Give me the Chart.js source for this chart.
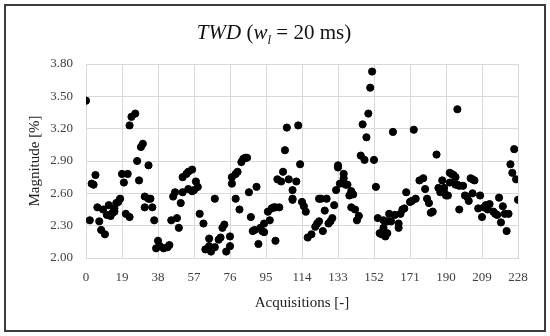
<!DOCTYPE html>
<html>
<head>
<meta charset="utf-8">
<script src="https://cdn.jsdelivr.net/npm/chart.js@4"></script>
<style>
  body { margin: 0; background: #fff; }
  #wrap { position: relative; width: 550px; height: 336px; }
  #frame { position: absolute; left: 4px; top: 4px; width: 538px; height: 324px; border: 2px solid #3c3c3c; pointer-events: none; }
  #title { position: absolute; left: 0; width: 548px; top: 20px; text-align: center; font-family: "Liberation Serif", serif; font-size: 21px; color: #111; }
  #title sub { font-size: 13px; }
  canvas { position: absolute; left: 0; top: 0; }
</style>
</head>
<body>
<div id="wrap">
  <canvas id="chart" width="550" height="336"></canvas>
  <div id="title"><i>TWD</i> (<i>w<sub>l</sub></i> = 20 ms)</div>
  <div id="frame"></div>
</div>
<script>
// acquisitions (x) and magnitude in % (y)
const acquisitions = [
    0, 2, 3, 4, 5, 6, 7, 8, 9, 10, 11, 12, 13, 14, 15, 15, 16, 17, 18, 19,
    20, 21, 22, 23, 23, 24, 26, 27, 28, 29, 30, 31, 31, 33, 33, 34, 35, 36, 37, 38,
    39, 41, 43, 44, 45, 46, 47, 48, 49, 50, 51, 51, 53, 54, 56, 54, 56, 57, 58, 59,
    60, 62, 63, 65, 65, 66, 68, 68, 70, 71, 72, 73, 74, 76,
    76, 77, 77, 79, 79, 80, 81, 82, 83, 84, 85, 86, 87, 88, 89, 90, 91, 92, 93, 94,
    94, 96, 97, 98, 99, 100, 100, 101, 102, 103, 104, 105, 106, 107, 109, 109, 109, 111, 112, 113,
    114, 115, 116, 117,
    119, 121, 122, 123, 123, 124, 125, 126, 127, 128, 129, 130, 131, 132, 133, 133, 134, 136, 136, 137,
    138, 139, 140, 141, 140, 142, 143, 144, 145, 146, 147, 148, 149, 150, 151, 152, 153, 154, 155, 156,
    157, 157, 158, 159, 159, 160, 161, 162, 163, 165, 165, 166, 167, 168, 169, 171, 172, 173, 174, 176,
    178, 179, 180, 181, 182, 183, 185, 186, 187, 188, 189, 189, 190, 191, 192, 193, 194, 195, 196, 197,
    192, 195, 196, 197, 199, 200, 201, 202, 203, 204, 204, 205, 207, 208, 209, 210, 211, 212, 213, 215,
    216, 217, 218, 219, 220, 221, 222, 223, 224, 225, 226, 227, 228
];
const magnitudes = [
    3.46, 2.35, 2.69, 2.68, 2.77, 2.47, 2.34, 2.26, 2.45, 2.22, 2.40, 2.49, 2.39, 2.42, 2.43, 2.46, 2.51, 2.52, 2.55, 2.78,
    2.70, 2.41, 2.78, 2.38, 3.23, 3.31, 3.34, 2.90, 2.72, 3.03, 3.06, 2.47, 2.57, 2.86, 2.55, 2.55, 2.47, 2.35, 2.09, 2.16,
    2.11, 2.09, 2.10, 2.12, 2.35, 2.57, 2.61, 2.37, 2.28, 2.51, 2.61, 2.75, 2.78, 2.80, 2.82, 2.64, 2.62, 2.63, 2.71, 2.66,
    2.41, 2.32, 2.08, 2.11, 2.18, 2.06, 2.10, 2.55, 2.17, 2.19, 2.28, 2.31, 2.06, 2.11,
    2.20, 2.69, 2.75, 2.55, 2.78, 2.80, 2.45, 2.89, 2.92, 2.93, 2.93, 2.61, 2.38, 2.25, 2.26, 2.66, 2.13, 2.28, 2.25, 2.24,
    2.32, 2.43, 2.35, 2.46, 2.47, 2.47, 2.16, 2.73, 2.47, 2.71, 2.80, 3.00, 3.21, 2.73, 2.55, 2.63, 2.54, 2.71, 3.23, 2.87,
    2.52, 2.48, 2.43, 2.19,
    2.22, 2.29, 2.32, 2.34, 2.55, 2.55, 2.25, 2.44, 2.55, 2.32, 2.34, 2.37, 2.49, 2.63, 2.86, 2.84, 2.69, 2.78, 2.74, 2.68,
    2.68, 2.58, 2.62, 2.59, 2.47, 2.45, 2.35, 2.39, 2.95, 3.24, 2.91, 3.12, 3.34, 3.58, 3.73, 2.91, 2.66, 2.37, 2.23, 2.22,
    2.35, 2.28, 2.20, 2.23, 2.34, 2.41, 2.34, 3.17, 2.40, 2.28, 2.32, 2.41, 2.45, 2.46, 2.61, 2.52, 2.53, 3.19, 2.55, 2.72,
    2.74, 2.64, 2.55, 2.51, 2.42, 2.43, 2.96, 2.65, 2.61, 2.72, 2.65, 2.61, 2.58, 2.58, 2.79, 2.78, 2.77, 2.68, 3.38, 2.45,
    2.70, 2.75, 2.68, 2.67, 2.67, 2.58, 2.57, 2.53, 2.74, 2.73, 2.60, 2.72, 2.46, 2.58, 2.38, 2.47, 2.49, 2.45, 2.50, 2.43,
    2.41, 2.40, 2.56, 2.33, 2.48, 2.41, 2.25, 2.41, 2.87, 2.79, 3.01, 2.73, 2.54
];

const xTicks = [0, 19, 38, 57, 76, 95, 114, 133, 152, 171, 190, 209, 228];
const yTicks = [2.00, 2.30, 2.60, 2.90, 3.20, 3.50, 3.80];

const points = acquisitions.map((x, i) => ({ x: x, y: magnitudes[i] }));

const serif = '"Liberation Serif", "Times New Roman", serif';
const gridColor = '#d9d9d9';

const ctx = document.getElementById('chart').getContext('2d');
new Chart(ctx, {
    type: 'scatter',
    data: {
        datasets: [{
            data: points,
            backgroundColor: '#000',
            borderColor: '#000',
            pointRadius: 3.6,
            pointHoverRadius: 3.6
        }]
    },
    options: {
        responsive: false,
        animation: false,
        layout: { padding: { left: 22, right: 32, top: 64, bottom: 20 } },
        plugins: {
            legend: { display: false },
            tooltip: { enabled: false }
        },
        scales: {
            x: {
                type: 'linear',
                min: 0,
                max: 228,
                afterBuildTicks: (scale) => { scale.ticks = xTicks.map(v => ({ value: v })); },
                afterFit: (scale) => { scale.height = 58; },
                ticks: {
                    padding: 12,
                    color: '#404040',
                    font: { family: serif, size: 13 }
                },
                grid: { color: gridColor, drawTicks: false },
                border: { color: gridColor },
                title: {
                    display: true,
                    text: 'Acquisitions [-]',
                    color: '#222',
                    font: { family: serif, size: 15 },
                    padding: { top: 0, bottom: 4 }
                }
            },
            y: {
                min: 2,
                max: 3.8,
                afterBuildTicks: (scale) => { scale.ticks = yTicks.map(v => ({ value: v })); },
                afterFit: (scale) => { scale.width = 64; },
                ticks: {
                    padding: 13,
                    color: '#404040',
                    font: { family: serif, size: 13 },
                    callback: (v) => v.toFixed(2)
                },
                grid: { color: gridColor, drawTicks: false },
                border: { color: gridColor },
                title: {
                    display: true,
                    text: 'Magnitude [%]',
                    color: '#222',
                    font: { family: serif, size: 15 },
                    padding: { top: 4, bottom: 0 }
                }
            }
        }
    }
});
</script>
</body>
</html>
